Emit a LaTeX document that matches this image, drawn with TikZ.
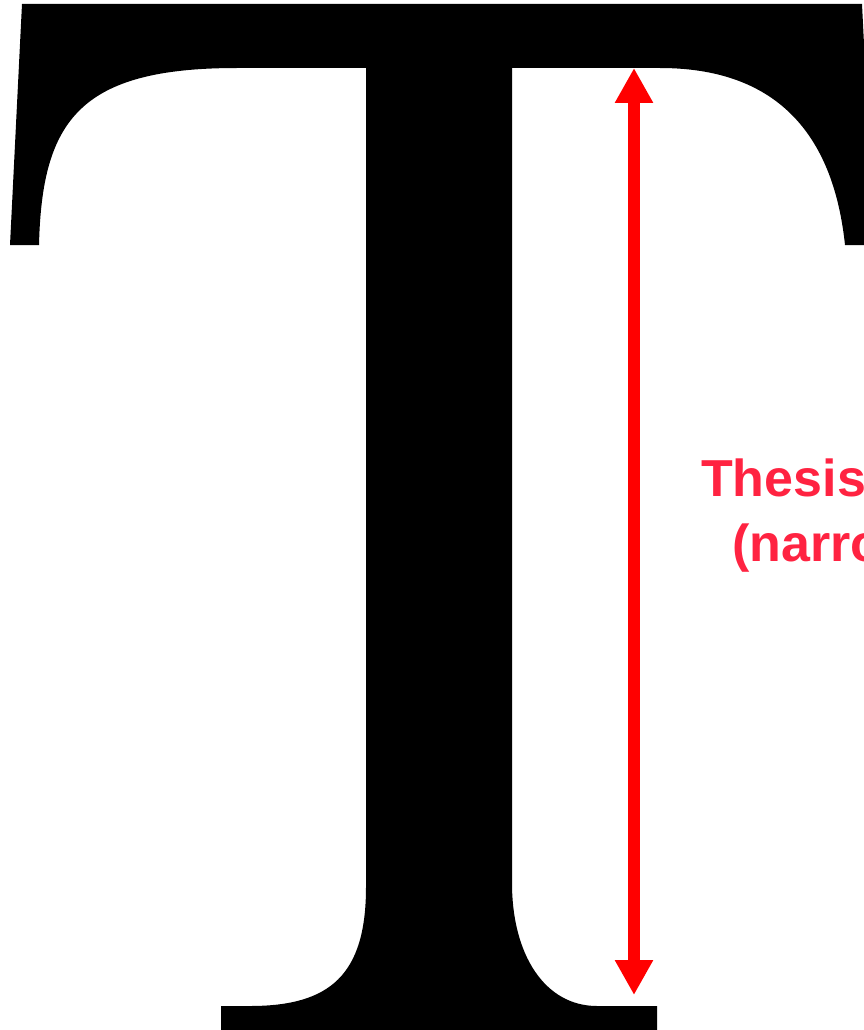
\documentclass[tikz,border=0pt]{standalone}
\usepackage{fontspec}
\setmainfont{Liberation Sans}
\usetikzlibrary{arrows.meta}
\definecolor{labelred}{RGB}{255,35,65}
\definecolor{arrowred}{RGB}{255,0,0}
\tikzset{
  glyph/.style={fill=black, draw=none},
  dimarrow/.style={draw=arrowred, line width=12pt,
    {Triangle[width=36pt,length=35pt]}-{Triangle[width=36pt,length=35pt]}},
  label/.style={text=labelred, font=\bfseries\fontsize{52}{62}\selectfont,
    inner sep=0pt, anchor=base west}
}
\begin{document}
\begin{tikzpicture}[x=1pt,y=-1pt]
\useasboundingbox (0,0) rectangle (863,1030);
% big serif T
\fill[glyph] (22,4) -- (862,4) -- (874,245) -- (845,245)
  .. controls (835,150) and (790,68) .. (660,68)
  -- (512,68) -- (512,883)
  .. controls (512,955) and (545,1006) .. (597,1006)
  -- (657,1006) -- (657,1045) -- (221,1045) -- (221,1006) -- (250,1006)
  .. controls (330,1006) and (366,975) .. (366,887)
  -- (366,68) -- (237,68)
  .. controls (80,68) and (42,120) .. (39,245)
  -- (10,245) -- cycle;
% dimension arrow
\coordinate (atop) at (634,68);
\coordinate (abot) at (634,995);
\draw[dimarrow] (atop) -- (abot);
% label
\node[label] (l1) at (701,496.7) {Thesis};
\node[label] (l2) at (732,561) {(narro};
\end{tikzpicture}
\end{document}
